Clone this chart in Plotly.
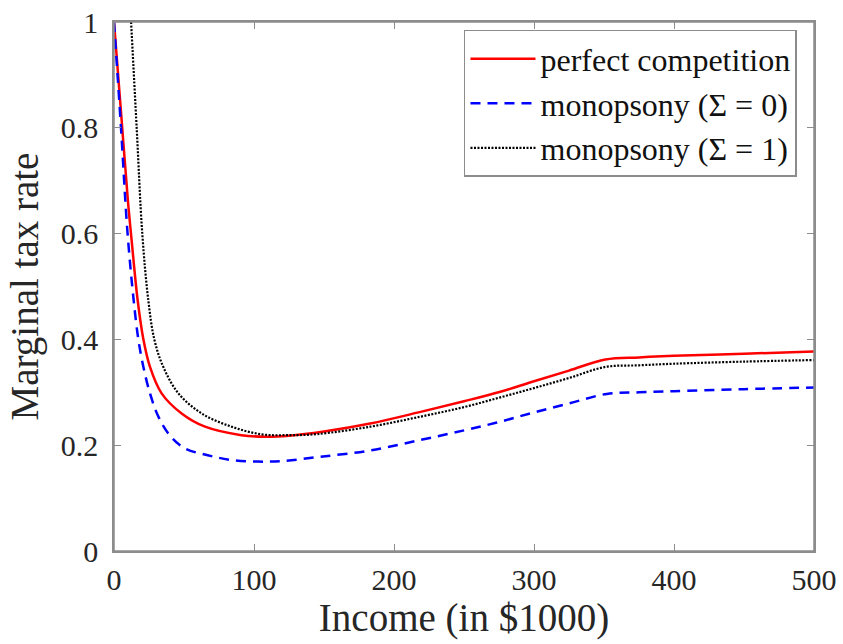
import plotly.graph_objects as go

# Data
income_pc = [0, 5, 10, 12.5, 16.9, 21, 25.7, 34, 48.3, 65, 91, 108, 125, 150, 183, 219, 250, 276, 300, 325, 351, 375, 400, 450, 500]
rate_pc = [1.0, 0.83, 0.66, 0.59, 0.474, 0.40, 0.348, 0.298, 0.260, 0.235, 0.219, 0.216, 0.218, 0.226, 0.241, 0.263, 0.283, 0.301, 0.321, 0.341, 0.362, 0.366, 0.369, 0.373, 0.377]

income_m0 = [0, 5, 9.5, 14, 17.4, 21, 25.7, 31.7, 40, 50.7, 67, 84, 103, 120, 147, 183, 219, 250, 276, 300, 325, 352, 375, 400, 450, 500]
rate_m0 = [1.0, 0.80, 0.607, 0.475, 0.40, 0.348, 0.298, 0.254, 0.218, 0.194, 0.181, 0.172, 0.169, 0.170, 0.178, 0.190, 0.210, 0.228, 0.2445, 0.262, 0.279, 0.297, 0.300, 0.302, 0.306, 0.309]

income_m1 = [12.2, 16.2, 20.2, 24.5, 28.8, 35.2, 46, 62.6, 84, 105.5, 125, 145, 183, 219, 250, 276, 300, 325, 351, 375, 400, 450, 500]
rate_m1 = [1.0, 0.80, 0.60, 0.474, 0.40, 0.348, 0.298, 0.260, 0.235, 0.2205, 0.219, 0.221, 0.235, 0.254, 0.272, 0.2905, 0.308, 0.327, 0.348, 0.351, 0.354, 0.358, 0.361]

names = ["perfect competition", "monopsony (Σ = 0)", "monopsony (Σ = 1)"]
x_ticks = [0, 100, 200, 300, 400, 500]
y_ticks = [0, 0.2, 0.4, 0.6, 0.8, 1]
y_ticktext = ["0", "0.2", "0.4", "0.6", "0.8", "1"]

FONT = "'Liberation Serif', 'Times New Roman', serif"
AX = "#8c8c8c"
TXT = "#262626"

fig = go.Figure()
fig.add_trace(go.Scatter(x=income_pc, y=rate_pc, mode="lines", name=names[0],
                         line=dict(color="#ff0000", width=2.5, shape="spline", smoothing=1)))
fig.add_trace(go.Scatter(x=income_m0, y=rate_m0, mode="lines", name=names[1],
                         line=dict(color="#0000ff", width=2.5, dash="10px,7px", shape="spline", smoothing=1)))
fig.add_trace(go.Scatter(x=income_m1, y=rate_m1, mode="lines", name=names[2],
                         line=dict(color="#000000", width=2.2, dash="2px,1.5px", shape="spline", smoothing=1)))
# invisible helper trace so the top axis (box ticks) is drawn
fig.add_trace(go.Scatter(x=income_pc, y=rate_pc, mode="lines", xaxis="x2", opacity=0,
                         showlegend=False, hoverinfo="skip", line=dict(width=0)))

fig.update_layout(
    width=843, height=644, autosize=False,
    margin=dict(l=114, r=29, t=22, b=93),
    paper_bgcolor="white", plot_bgcolor="white",
    font=dict(family=FONT, size=30, color=TXT),
    showlegend=True,
    legend=dict(x=0.9757, y=0.985, xanchor="right", yanchor="top",
                bgcolor="white", bordercolor=AX, borderwidth=1.5,
                font=dict(family=FONT, size=32, color="#111111"),
                itemwidth=65, tracegroupgap=0),
    shapes=[dict(type="rect", xref="x domain", yref="y domain", x0=0, x1=1, y0=0, y1=1,
                 line=dict(color=AX, width=1.5), fillcolor="rgba(0,0,0,0)", layer="above")],
    xaxis2=dict(overlaying="x", side="top", anchor="y", range=[0, 500], tickvals=x_ticks,
                ticks="inside", ticklen=7, tickcolor=AX, showticklabels=False,
                showline=False, showgrid=False, zeroline=False, automargin=False),
)
fig.update_xaxes(selector=dict(overlaying=None))
fig.layout.xaxis.update(range=[0, 500], tickvals=x_ticks, ticks="inside", ticklen=7,
                        tickcolor=AX, showline=True, linecolor=AX, linewidth=1.5, mirror="ticks",
                        showgrid=False, zeroline=False, automargin=False, ticklabelstandoff=1,
                        tickfont=dict(family=FONT, size=30, color=TXT),
                        title=dict(text="Income (in $1000)", font=dict(family=FONT, size=39, color=TXT), standoff=0))
fig.layout.yaxis.update(range=[0, 1], tickvals=y_ticks, ticktext=y_ticktext, ticks="inside", ticklen=7,
                        tickcolor=AX, showline=True, linecolor=AX, linewidth=1.5, mirror="ticks",
                        showgrid=False, zeroline=False, automargin=False, ticklabelstandoff=8,
                        tickfont=dict(family=FONT, size=30, color=TXT),
                        title=dict(text="Marginal tax rate", font=dict(family=FONT, size=39, color=TXT), standoff=10))

# remove the page's default body margin so the figure fills the window exactly
fig.write_html("out.html", config={"displayModeBar": False},
               post_script="document.body.style.margin='0';document.body.style.overflow='hidden';")
